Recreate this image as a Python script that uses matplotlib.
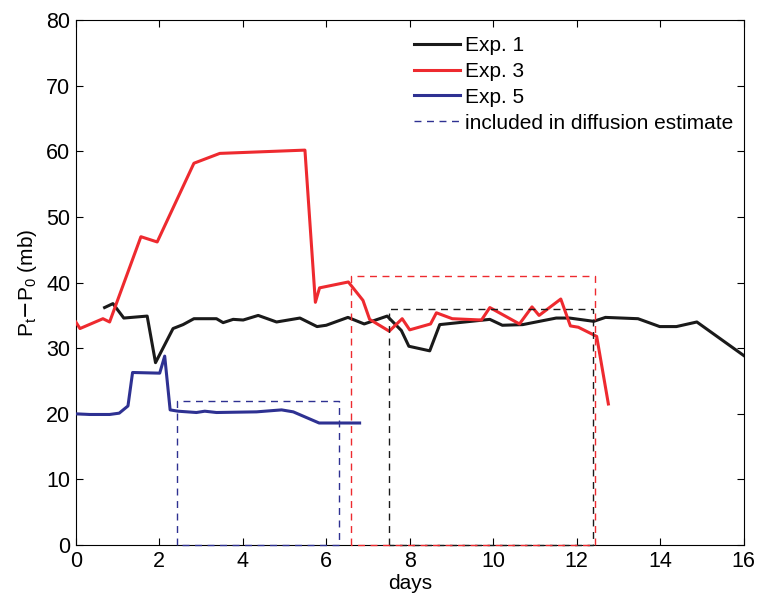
import matplotlib
matplotlib.use("Agg")
import matplotlib.pyplot as plt

plt.rcParams['font.family'] = ['Liberation Sans', 'DejaVu Sans']

# Exp. 1 (black)
exp1_x = [0.69, 0.89, 1.15, 1.71, 1.91, 2.33, 2.57, 2.83, 3.37, 3.53, 3.77, 4.01, 4.37, 4.81,
          5.37, 5.78, 6.00, 6.52, 6.91, 7.46, 7.80, 7.98, 8.48, 8.72, 9.92, 10.22, 10.71,
          11.51, 11.83, 12.41, 12.69, 13.47, 13.99, 14.39, 14.88, 16.0]
exp1_y = [36.2, 36.8, 34.6, 34.9, 27.8, 33.0, 33.6, 34.5, 34.5, 33.9, 34.4, 34.3, 35.0, 34.0,
          34.6, 33.3, 33.5, 34.7, 33.7, 34.9, 32.7, 30.3, 29.6, 33.6, 34.4, 33.5, 33.6,
          34.6, 34.6, 34.1, 34.7, 34.5, 33.3, 33.3, 34.0, 28.9]

# Exp. 3 (red)
exp3_x = [0.0, 0.1, 0.65, 0.81, 1.56, 1.95, 2.83, 3.45, 5.49, 5.74, 5.84, 6.53, 6.88, 7.04,
          7.51, 7.82, 8.00, 8.50, 8.64, 9.02, 9.72, 9.92, 10.63, 10.93, 11.10, 11.62, 11.85,
          12.04, 12.48, 12.76]
exp3_y = [34.0, 33.0, 34.5, 34.0, 47.0, 46.2, 58.2, 59.7, 60.2, 37.0, 39.2, 40.1, 37.3, 34.4,
          32.6, 34.5, 32.8, 33.7, 35.4, 34.5, 34.3, 36.2, 33.7, 36.3, 35.0, 37.5, 33.4,
          33.2, 31.8, 21.5]

# Exp. 5 (blue)
exp5_x = [0.0, 0.33, 0.81, 1.04, 1.25, 1.36, 2.01, 2.13, 2.26, 2.45, 2.89, 3.09, 3.37, 4.33,
          4.93, 5.21, 5.83, 6.80]
exp5_y = [20.0, 19.9, 19.9, 20.1, 21.2, 26.3, 26.2, 28.8, 20.6, 20.4, 20.2, 20.4, 20.2, 20.3,
          20.6, 20.3, 18.6, 18.6]

# Diffusion-estimate windows: (start day, end day, top value)
box_start = [7.50, 6.60, 2.42]
box_end = [12.38, 12.45, 6.30]
box_top = [36.0, 41.0, 22.0]

labels = ['Exp. 1', 'Exp. 3', 'Exp. 5']
colors = ['#1a1a1a', '#ee2a2f', '#2e3192']

fig = plt.figure(figsize=(7.58, 5.95), dpi=100)
ax = fig.add_axes([0.100, 0.084, 0.881, 0.882])

for xs, ys, c, lab in zip([exp1_x, exp3_x, exp5_x], [exp1_y, exp3_y, exp5_y], colors, labels):
    ax.plot(xs, ys, color=c, lw=2.2, label=lab, zorder=3)

for x0, x1, top, c in zip(box_start, box_end, box_top, colors):
    ax.plot([x0, x0, x1, x1, x0], [0, top, top, 0, 0], color=c, lw=1.0,
            ls=(0, (5, 4)), zorder=4, clip_on=False)

ax.plot([], [], color=colors[2], lw=1.0, ls=(0, (5, 4)), label='included in diffusion estimate')

ax.set_xlim(0, 16)
ax.set_ylim(0, 80)
ax.set_xticks(range(0, 17, 2))
ax.set_yticks(range(0, 81, 10))
ax.tick_params(direction='in', top=True, right=True, labelsize=15.5, length=5, width=0.8, pad=4)
for s in ax.spines.values():
    s.set_linewidth(0.8)

ax.set_xlabel('days', fontsize=15, labelpad=2)
ax.set_ylabel(r'P$_\mathregular{t}$$-$P$_\mathregular{0}$ (mb)', fontsize=15, labelpad=5)

leg = ax.legend(loc='upper left', bbox_to_anchor=(0.506, 0.970), frameon=False, fontsize=15,
                handlelength=2.2, handletextpad=0.25, labelspacing=0.33, borderaxespad=0,
                borderpad=0)

fig.savefig('out.png', dpi=100)
